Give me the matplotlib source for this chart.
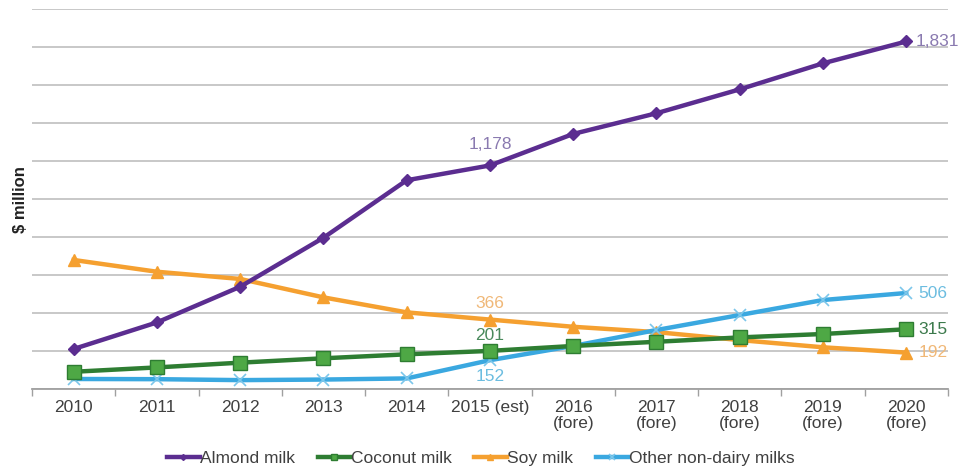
import numpy as np
import matplotlib

matplotlib.use("Agg")
import matplotlib.pyplot as plt
from matplotlib.ticker import FixedLocator, MultipleLocator

plt.rcParams["font.family"] = ["Liberation Sans", "DejaVu Sans"]

YEARS = ["2010", "2011", "2012", "2013", "2014", "2015 (est)",
         "2016\n(fore)", "2017\n(fore)", "2018\n(fore)", "2019\n(fore)", "2020\n(fore)"]

almond = [211, 351, 539, 797, 1100, 1178, 1344, 1453, 1579, 1716, 1831]
coconut = [91, 114, 139, 162, 183, 201, 227, 249, 272, 290, 315]
soy = [680, 618, 580, 483, 404, 366, 328, 300, 258, 220, 192]
other = [53, 52, 47, 50, 56, 152, 227, 311, 390, 469, 506]

x = np.arange(len(YEARS))

fig = plt.figure(figsize=(9.62, 4.71), dpi=100)
ax = fig.add_axes([0.0333, 0.174, 0.952, 0.806])

ax.plot(x, almond, color="#5b2d90", lw=3.2, marker="D", ms=6, label="Almond milk", zorder=5)
ax.plot(x, coconut, color="#2e7d32", lw=3.2, marker="s", ms=10,
        mfc="#4ea845", mec="#2e7d32", label="Coconut milk", zorder=4)
ax.plot(x, soy, color="#f5a030", lw=3.2, marker="^", ms=9, label="Soy milk", zorder=3)
ax.plot(x, other, color="#3aa8e0", lw=3.2, marker="x", ms=9, mew=1.2,
        mec="#7cc6ea", label="Other non-dairy milks", zorder=3)

ax.set_xlim(-0.5, len(YEARS) - 0.5)
ax.set_ylim(0, 2000)
ax.yaxis.set_major_locator(MultipleLocator(200))
ax.grid(axis="y", color="#c4c4c4", lw=1.3)
ax.set_axisbelow(True)
ax.tick_params(axis="y", left=False, labelleft=False)

ax.set_xticks(x)
ax.set_xticklabels(YEARS, fontsize=12.5, color="#404040", linespacing=1.1)
ax.tick_params(axis="x", length=0, pad=8)
ax.xaxis.set_minor_locator(FixedLocator(np.arange(-0.5, len(YEARS), 1.0)))
ax.tick_params(axis="x", which="minor", length=5, color="#a0a0a0", width=1)

for side in ["left", "right", "top"]:
    ax.spines[side].set_visible(False)
ax.spines["bottom"].set_color("#a0a0a0")
ax.spines["bottom"].set_linewidth(1.3)

ax.set_ylabel("$ million", fontsize=12, fontweight="bold", color="#222222")
ax.yaxis.set_label_coords(-0.004, 0.50)

# value callouts
lbl = dict(textcoords="offset points", fontsize=12.5)
ax.annotate(f"{almond[-1]:,}", (x[-1], almond[-1]), xytext=(7, 0), va="center",
            color="#8a7ab0", **lbl)
ax.annotate(f"{almond[5]:,}", (x[5], almond[5]), xytext=(0, 10), ha="center", va="bottom",
            color="#8a7ab0", **lbl)
ax.annotate(f"{soy[5]}", (x[5], soy[5]), xytext=(0, 6), ha="center", va="bottom",
            color="#f0b878", **lbl)
ax.annotate(f"{coconut[5]}", (x[5], coconut[5]), xytext=(0, 6), ha="center", va="bottom",
            color="#4a8a5c", **lbl)
ax.annotate(f"{other[5]}", (x[5], other[5]), xytext=(0, -6), ha="center", va="top",
            color="#6cbde0", **lbl)
ax.annotate(f"{other[-1]}", (x[-1], other[-1]), xytext=(9, 0), va="center",
            color="#6cbde0", **lbl)
ax.annotate(f"{coconut[-1]}", (x[-1], coconut[-1]), xytext=(9, 0), va="center",
            color="#3c7a4c", **lbl)
ax.annotate(f"{soy[-1]}", (x[-1], soy[-1]), xytext=(9, 0), va="center",
            color="#f0b878", **lbl)

leg = fig.legend(loc="center", bbox_to_anchor=(0.5, 0.027), ncol=4, frameon=False,
                 fontsize=12.5, handlelength=1.85, handletextpad=0.05, columnspacing=1.3,
                 markerscale=0.5)
for t in leg.get_texts():
    t.set_color("#404040")

fig.savefig("out.png", dpi=100)
